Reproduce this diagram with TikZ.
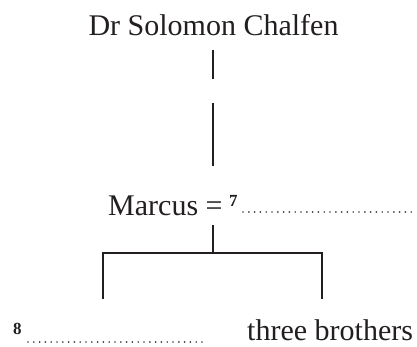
\documentclass[tikz,border=0pt]{standalone}
\usepackage{fontspec}
\setmainfont{Liberation Serif}
\definecolor{ink}{HTML}{231F20}
\begin{document}
\begin{tikzpicture}[x=1pt, y=-1pt,
    every node/.style={inner sep=0pt, text=ink, font=\fontsize{30}{36}\selectfont},
    note/.style={font=\fontsize{17}{20}\selectfont\bfseries},
    line/.style={draw=ink, line width=2.8pt},
    blank/.style={draw=ink!85, line width=1.9pt, line cap=round, dash pattern=on 0pt off 5.8pt}]

    \useasboundingbox (0,0) rectangle (417,347);

    % Top
    \node[anchor=base] (solomon) at (213.5,36) {Dr Solomon Chalfen};

    % Middle row
    \node[anchor=base west] (marcus) at (108,215) {Marcus =};
    \node[note, anchor=base west] (n7) at (229,207) {7};
    \coordinate (wife) at (243,212);
    \coordinate (wifeend) at (416,212);

    % Bottom row
    \node[note, anchor=base west] (n8) at (13,334) {8};
    \coordinate (child) at (28,342);
    \coordinate (childend) at (202,342);
    \node[anchor=base west] (brothers) at (247,340) {three brothers};

    % Joints
    \coordinate (a1) at (213,50);
    \coordinate (a2) at (213,79);
    \coordinate (b1) at (213,103);
    \coordinate (b2) at (213,166);
    \coordinate (c1) at (213,225);
    \coordinate (fork) at (213,253);
    \coordinate (left) at (103,299);
    \coordinate (right) at (322,299);

    % Edges
    \draw[line] (a1) -- (a2);
    \draw[line] (b1) -- (b2);
    \draw[line] (c1) -- (fork);
    \draw[line] (left) |- (fork) -| (right);
    \draw[blank] (wife) -- (wifeend);
    \draw[blank] (child) -- (childend);

\end{tikzpicture}
\end{document}
